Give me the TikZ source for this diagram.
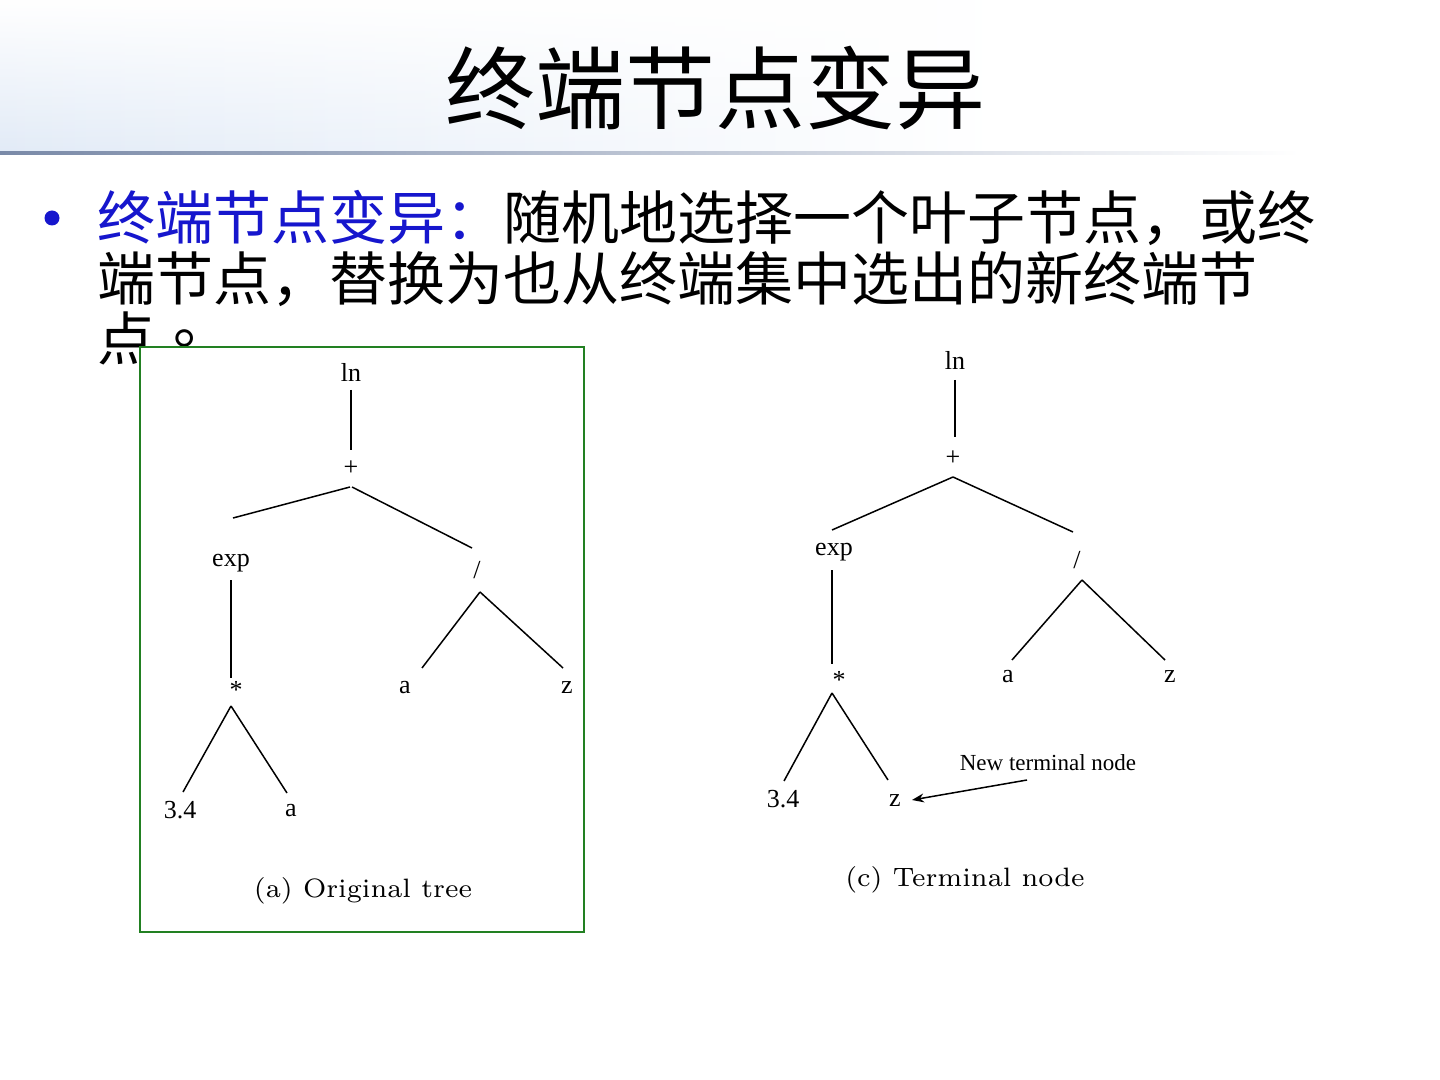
\documentclass[tikz,border=0pt]{standalone}
\usepackage{fontspec}
\newfontfamily\cjk{Noto Sans CJK SC}
\newfontfamily\cjktc{Noto Sans CJK TC}
\newfontfamily\tms{Liberation Serif}
\newfontfamily\capfont{lmroman7-regular.otf}
\usetikzlibrary{calc,arrows.meta,fadings}
\definecolor{bodyblue}{RGB}{22,22,205}
\definecolor{boxgreen}{RGB}{34,128,34}
\definecolor{hdrblue}{RGB}{226,235,247}
\definecolor{ruleblue}{RGB}{122,138,168}
\tikzset{
  treelab/.style={inner sep=0pt, font=\tms\fontsize{13}{15}\selectfont},
  edge/.style={line width=0.75pt, black},
  caption/.style={inner sep=0pt, font=\capfont\fontsize{13.3}{16}\selectfont},
  bodyline/.style={anchor=base west, inner sep=0pt, font=\cjk\fontsize{29}{32}\selectfont},
}
\begin{document}
\begin{tikzpicture}[x=0.5pt,y=-0.5pt]
\useasboundingbox (0,0) rectangle (1440,1080);
\fill[white] (0,0) rectangle (1440,1080);
% header
\shade[left color=hdrblue, right color=white, path fading=north] (0,0) rectangle (1000,153);
\shade[left color=ruleblue, right color=white] (0,152) rectangle (1300,155);
\node[anchor=base, inner sep=0pt, font=\cjk\fontsize{45}{50}\selectfont] (title) at (715,123) {终端节点变异};
% bullet text
\node[circle, fill=bodyblue, inner sep=0pt, minimum size=7.5pt] (bullet) at (52,218) {};
\node[bodyline] (l1) at (97,240) {\textcolor{bodyblue}{终端节点变异：}随机地选择一个叶子节点，或终};
\node[bodyline] (l2) at (97,301) {端节点，替换为也从终端集中选出的新终端节};
\node[bodyline] (l3) at (97,361) {点{\cjktc 。}};
% left box
\draw[boxgreen, line width=1pt, fill=white] (140,347) rectangle (584,932);
% left tree
\node[treelab] (aln) at (351,372) {ln};
\node[treelab] (aplus) at (351,468) {+};
\node[treelab] (aexp) at (231,563) {exp};
\node[treelab] (aslash) at (477,570) {/};
\node[treelab] (astar) at (236,690) {*};
\node[treelab] (aa1) at (405,688) {a};
\node[treelab] (az1) at (567,688) {z};
\node[treelab] (a34) at (180,810) {3.4};
\node[treelab] (aa2) at (291,811) {a};
\node[caption] (acap) at (363,891) {(a) Original tree};
\draw[edge] ($(aln)+(0,18)$) -- ($(aplus)+(0,-18)$);
\draw[edge] ($(aplus)+(-1,19)$) -- ($(aexp)+(2,-45)$);
\draw[edge] ($(aplus)+(1,19)$) -- ($(aslash)+(-5,-22)$);
\draw[edge] ($(aexp)+(0,17)$) -- ($(astar)+(-5,-12)$);
\draw[edge] ($(aslash)+(3,22)$) -- ($(aa1)+(17,-20)$);
\draw[edge] ($(aslash)+(3,22)$) -- ($(az1)+(-4,-20)$);
\draw[edge] ($(astar)+(-5,16)$) -- ($(a34)+(3,-18)$);
\draw[edge] ($(astar)+(-5,16)$) -- ($(aa2)+(-4,-18)$);
% right tree
\node[treelab] (cln) at (955,360) {ln};
\node[treelab] (cplus) at (953,458) {+};
\node[treelab] (cexp) at (834,552) {exp};
\node[treelab] (cslash) at (1077,560) {/};
\node[treelab] (cstar) at (839,680) {*};
\node[treelab] (ca1) at (1008,677) {a};
\node[treelab] (cz1) at (1170,677) {z};
\node[treelab] (c34) at (783,799) {3.4};
\node[treelab] (cz2) at (895,801) {z};
\node[inner sep=0pt, font=\tms\fontsize{11.5}{13}\selectfont] (newlab) at (1048,763) {New terminal node};
\node[caption] (ccap) at (965,880) {(c) Terminal node};
\draw[edge] ($(cln)+(0,20)$) -- ($(cplus)+(2,-21)$);
\draw[edge] ($(cplus)+(0,19)$) -- ($(cexp)+(-2,-22)$);
\draw[edge] ($(cplus)+(0,19)$) -- ($(cslash)+(-4,-28)$);
\draw[edge] ($(cexp)+(-2,18)$) -- ($(cstar)+(-7,-16)$);
\draw[edge] ($(cslash)+(5,20)$) -- ($(ca1)+(4,-17)$);
\draw[edge] ($(cslash)+(5,20)$) -- ($(cz1)+(-5,-17)$);
\draw[edge] ($(cstar)+(-7,13)$) -- ($(c34)+(1,-18)$);
\draw[edge] ($(cstar)+(-7,13)$) -- ($(cz2)+(-7,-21)$);
\draw[edge, -{Stealth[length=6pt,width=4.5pt]}] ($(newlab)+(-21,17)$) -- ($(cz2)+(17,-1)$);
\end{tikzpicture}
\end{document}
